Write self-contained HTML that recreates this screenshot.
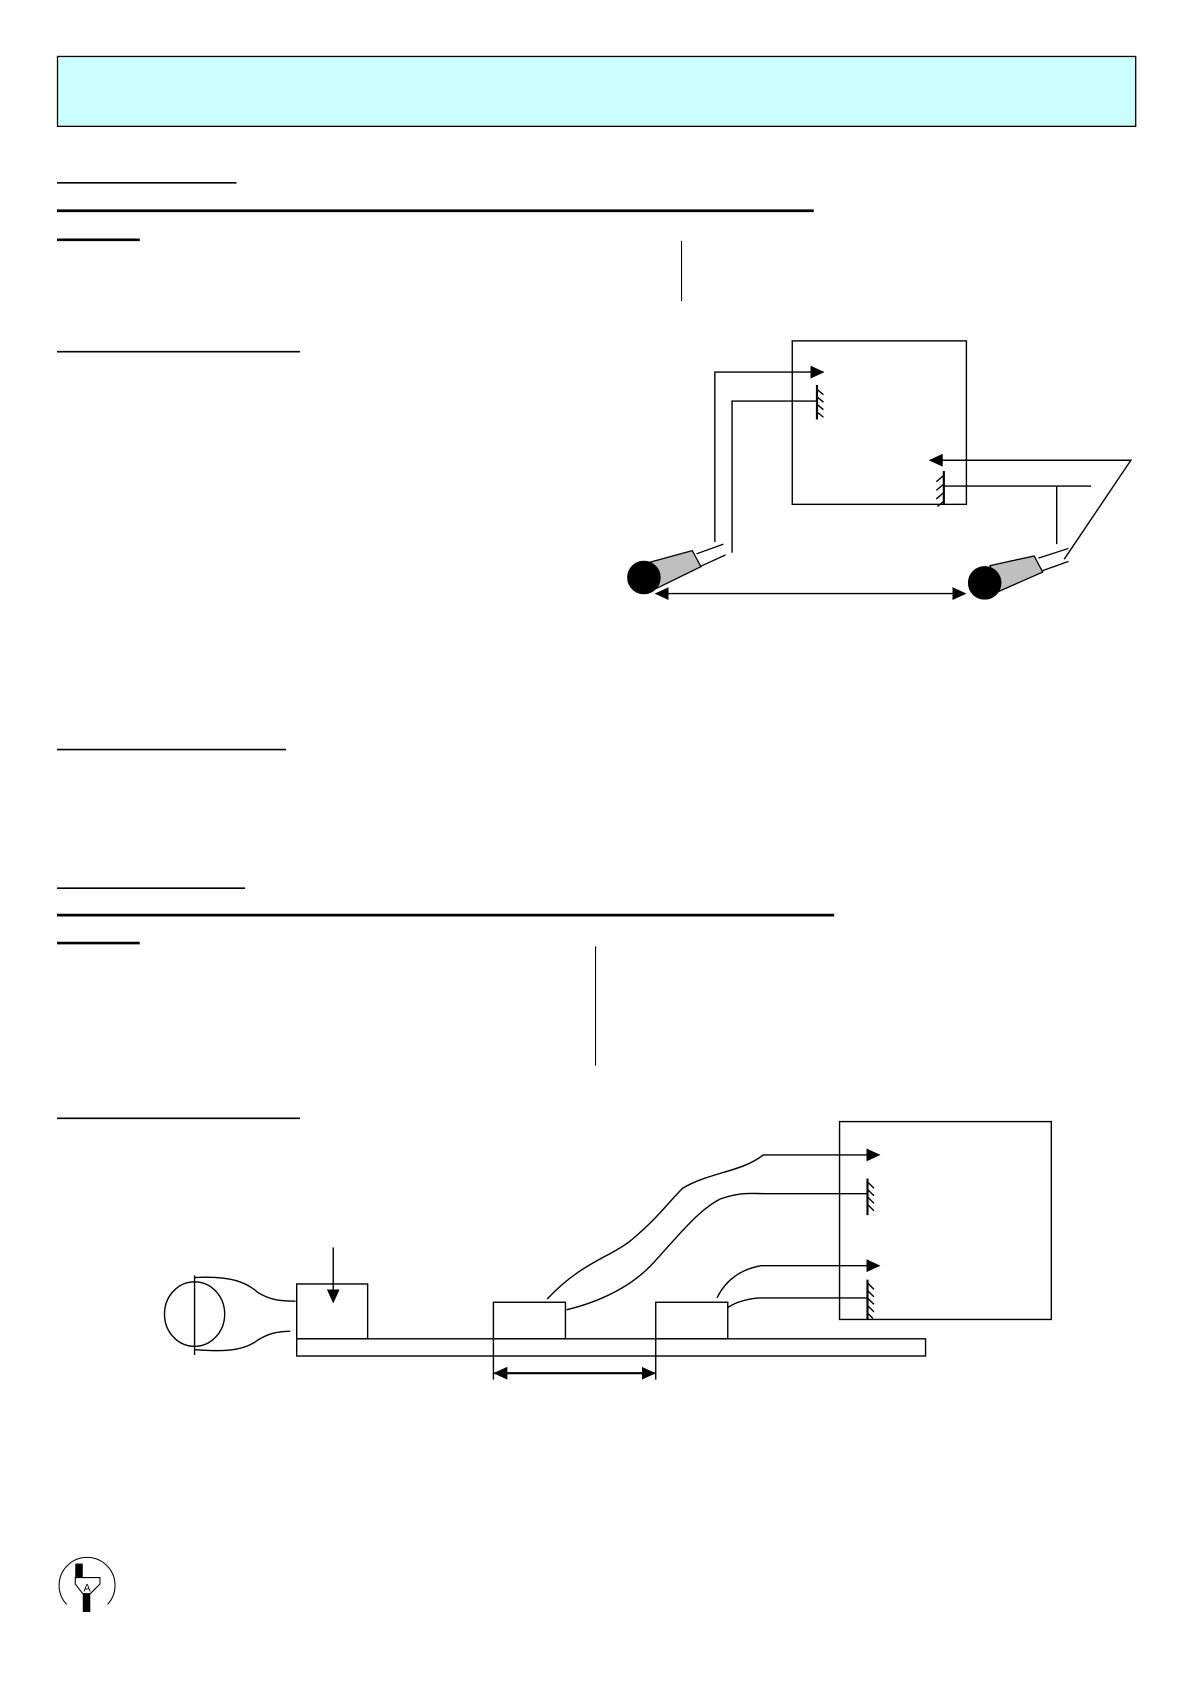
<!DOCTYPE html>
<html><head><meta charset="utf-8"><style>
html,body{margin:0;padding:0;background:#fff;width:1190px;height:1684px;overflow:hidden}
svg{display:block}
</style></head><body>
<svg width="1190" height="1684" viewBox="0 0 1107 1566" preserveAspectRatio="none" xmlns="http://www.w3.org/2000/svg" fill="none" stroke="#000">
<defs>
<marker id="ah" markerWidth="13" markerHeight="12" refX="12" refY="6" orient="auto" markerUnits="userSpaceOnUse"><path d="M0,0 L13,6 L0,12 Z" fill="#000" stroke="none"/></marker>
<marker id="ahs" markerWidth="13" markerHeight="12" refX="1" refY="6" orient="auto" markerUnits="userSpaceOnUse"><path d="M13,0 L0,6 L13,12 Z" fill="#000" stroke="none"/></marker>
</defs>
<rect x="53.5" y="52.5" width="1003" height="65" fill="#ccffff" stroke="#000" stroke-width="1.2"/>
<g stroke-width="1.5">
<line x1="53" y1="170" x2="220" y2="170"/>
<line x1="53" y1="196" x2="757" y2="196" stroke-width="2.5"/>
<line x1="53" y1="223" x2="130" y2="223" stroke-width="2.5"/>
<line x1="53" y1="327" x2="279" y2="327"/>
<line x1="53" y1="697" x2="266" y2="697"/>
<line x1="53" y1="826" x2="228" y2="826"/>
<line x1="53" y1="851" x2="776" y2="851" stroke-width="2.5"/>
<line x1="53" y1="877" x2="130" y2="877" stroke-width="2.5"/>
<line x1="53" y1="1040" x2="279" y2="1040"/>
</g>
<line x1="634" y1="224" x2="634" y2="280" stroke-width="1"/>
<line x1="554" y1="880" x2="554" y2="991" stroke-width="1"/>
<!-- diagram 1 -->
<g stroke-width="1.3">
<rect x="737" y="317" width="162" height="152"/>
<polyline points="665,504 665,346 766,346" marker-end="url(#ah)"/>
<polyline points="681,514 681,373 760,373"/>
<line x1="760" y1="358" x2="760" y2="390" stroke-width="2"/>
<path d="M760,362 l6,5 M760,369 l6,5 M760,376 l6,5 M760,383 l6,5"/>
<polyline points="990,520 1052,428 865,428" marker-end="url(#ah)"/>
<polyline points="1015,452 878,452"/>
<line x1="983" y1="452" x2="983" y2="506"/>
<line x1="878" y1="438" x2="878" y2="469" stroke-width="2"/>
<path d="M878,442 l-7,6 M878,450 l-7,6 M878,458 l-7,6 M878,466 l-6,5"/>
<line x1="610" y1="552" x2="898" y2="552" marker-start="url(#ahs)" marker-end="url(#ah)"/>
</g>
<g stroke-width="1.2">
<path d="M604,523 L644,512 L652,527 L611,547 Z" fill="#bfbfbf"/>
<path d="M648,515 L673,506 M651,527 L675,516"/>
<ellipse cx="599" cy="537" rx="15" ry="15" fill="#000"/>
<path d="M921,526 L962,517 L970,532 L929,550 Z" fill="#bfbfbf"/>
<path d="M966,519 L994,510 M969,531 L994,522"/>
<ellipse cx="916" cy="542" rx="15" ry="15" fill="#000"/>
</g>
<!-- diagram 2 -->
<g stroke-width="1.3">
<rect x="781" y="1043" width="197" height="184"/>
<rect x="276" y="1245" width="585" height="16"/>
<rect x="276" y="1194" width="66" height="51"/>
<rect x="459" y="1211" width="67" height="34"/>
<rect x="610" y="1211" width="67" height="34"/>
<line x1="310" y1="1160" x2="310" y2="1211" marker-end="url(#ah)"/>
<line x1="459" y1="1245" x2="459" y2="1283"/>
<line x1="610" y1="1245" x2="610" y2="1283"/>
<line x1="460" y1="1277" x2="609" y2="1277" stroke-width="2" marker-start="url(#ahs)" marker-end="url(#ah)"/>
<ellipse cx="181" cy="1222" rx="28" ry="30"/>
<line x1="181" y1="1186" x2="181" y2="1260"/>
<path d="M181,1188 C215,1186 230,1193 240,1202 C250,1208 258,1210 275,1210"/>
<path d="M181,1255 C215,1258 230,1254 240,1246 C250,1240 258,1238 270,1238"/>
<path d="M509,1208 C540,1175 565,1170 585,1155 C610,1135 620,1120 635,1105 C660,1090 690,1090 710,1074 L818,1074" marker-end="url(#ah)"/>
<path d="M527,1218 C560,1210 590,1195 610,1172 C630,1150 650,1125 670,1115 C690,1108 700,1110 710,1110 L807,1110"/>
<path d="M667,1207 C675,1190 690,1180 708,1177 L818,1177" marker-end="url(#ah)"/>
<path d="M677,1216 C685,1210 700,1207 708,1207 L807,1207"/>
<line x1="807" y1="1096" x2="807" y2="1130" stroke-width="2"/>
<path d="M807,1099 l6,6 M807,1106 l6,6 M807,1113 l6,6 M807,1120 l6,6"/>
<line x1="807" y1="1190" x2="807" y2="1227" stroke-width="2"/>
<path d="M807,1193 l6,6 M807,1200 l6,6 M807,1207 l6,6 M807,1214 l6,6 M807,1221 l5,5"/>
</g>
<!-- logo -->
<g transform="translate(0,10)">
<path d="M62,1482 A26,26 0 1 1 100,1482" stroke-width="1"/>
<rect x="70" y="1444" width="7" height="13" fill="#000" stroke="none"/>
<rect x="77" y="1472" width="7" height="17" fill="#000" stroke="none"/>
<path d="M70,1457 L93,1457 L93,1463 L84,1472 L77,1472 L70,1463 Z" stroke-width="1" fill="#fff"/>
<text x="81" y="1470" font-family="Liberation Sans, sans-serif" font-size="10" text-anchor="middle" fill="#000" stroke="none">A</text>
</g>
</svg>
</body></html>
